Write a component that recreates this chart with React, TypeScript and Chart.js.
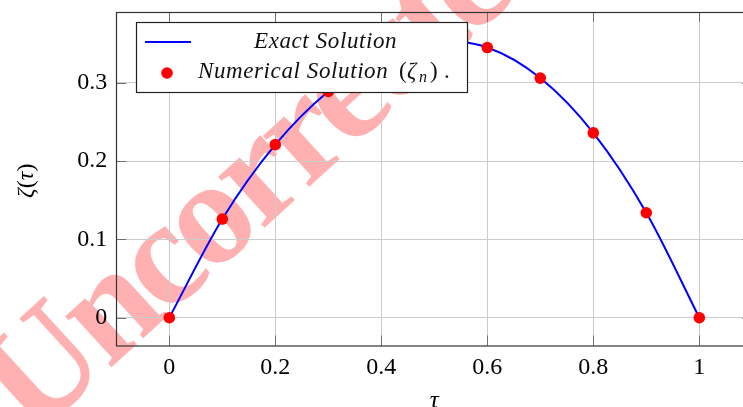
import React, { useEffect, useRef } from 'react';
import { Chart, registerables } from 'chart.js';

Chart.register(...registerables);

// ---- data ----
const tau = [0, 0.1, 0.2, 0.3, 0.4, 0.5, 0.6, 0.7, 0.8, 0.9, 1.0];
const exactSolution = [0, 0.126, 0.221, 0.289, 0.332, 0.353, 0.345, 0.306, 0.236, 0.134, 0];
const numericalSolution = [0, 0.126, 0.221, 0.289, 0.332, 0.353, 0.345, 0.306, 0.236, 0.134, 0];
const xTicks = [0, 0.2, 0.4, 0.6, 0.8, 1];
const xTickLabels = ['0', '0.2', '0.4', '0.6', '0.8', '1'];
const yTicks = [0, 0.1, 0.2, 0.3];
const yTickLabels = ['0', '0.1', '0.2', '0.3'];
const xRange = [-0.1, 1.1];
const yRange = [-0.0355, 0.3904];
const legendLabels = ['Exact Solution', 'Numerical Solution'];
const watermarkText = 'Uncorrected';

const SERIF = '"Liberation Serif", "Times New Roman", serif';

type Seg = { t: string; font: string; dy?: number; x?: number };

function drawSegs(ctx: CanvasRenderingContext2D, segs: Seg[], startX: number, baseline: number, center = false) {
  let total = 0;
  for (const s of segs) {
    ctx.font = s.font;
    total += ctx.measureText(s.t).width;
  }
  let x = center ? startX - total / 2 : startX;
  ctx.textAlign = 'left';
  ctx.textBaseline = 'alphabetic';
  for (const s of segs) {
    ctx.font = s.font;
    if (s.x !== undefined) x = s.x;
    ctx.fillText(s.t, x, baseline + (s.dy || 0));
    x += ctx.measureText(s.t).width;
  }
}

const watermarkPlugin = {
  id: 'watermark',
  beforeDraw(chart: any) {
    const ctx = chart.ctx as CanvasRenderingContext2D;
    ctx.save();
    ctx.translate(33, 439);
    ctx.rotate(-0.74);
    ctx.font = `bold 150px ${SERIF}`;
    (ctx as any).letterSpacing = '-6px';
    ctx.fillStyle = '#ffb0b0';
    ctx.textBaseline = 'alphabetic';
    ctx.textAlign = 'left';
    ctx.fillText(watermarkText, 0, 0);
    (ctx as any).letterSpacing = '0px';
    ctx.restore();
  },
};

const framePlugin = {
  id: 'frame',
  afterDatasetsDraw(chart: any) {
    const ctx = chart.ctx as CanvasRenderingContext2D;
    const { left, right, top, bottom } = chart.chartArea;
    const xs = chart.scales.x;
    const ys = chart.scales.y;
    ctx.save();
    ctx.strokeStyle = '#707070';
    ctx.lineWidth = 1;
    ctx.beginPath();
    for (const v of xTicks) {
      const px = Math.round(xs.getPixelForValue(v)) + 0.5;
      ctx.moveTo(px, bottom);
      ctx.lineTo(px, bottom - 10);
      ctx.moveTo(px, top);
      ctx.lineTo(px, top + 10);
    }
    for (const v of yTicks) {
      const py = Math.round(ys.getPixelForValue(v)) + 0.5;
      ctx.moveTo(left, py);
      ctx.lineTo(left + 10, py);
      ctx.moveTo(right, py);
      ctx.lineTo(right - 10, py);
    }
    ctx.stroke();
    ctx.strokeStyle = '#333333';
    ctx.lineWidth = 1.2;
    ctx.strokeRect(Math.round(left) + 0.5, Math.round(top) + 0.5, right - left, bottom - top);
    ctx.restore();
  },
  afterDraw(chart: any) {
    const ctx = chart.ctx as CanvasRenderingContext2D;
    const { left, right, top, bottom } = chart.chartArea;
    ctx.save();
    ctx.fillStyle = '#000';
    // x title
    drawSegs(ctx, [{ t: 'τ', font: `italic 25px ${SERIF}` }], (left + right) / 2, 408, true);
    // y title
    ctx.save();
    ctx.translate(33, (top + bottom) / 2 + 2);
    ctx.rotate(-Math.PI / 2);
    drawSegs(
      ctx,
      [
        { t: 'ζ', font: `italic 24px ${SERIF}` },
        { t: '(', font: `24px ${SERIF}` },
        { t: 'τ', font: `italic 24px ${SERIF}` },
        { t: ')', font: `24px ${SERIF}` },
      ],
      0,
      0,
      true
    );
    ctx.restore();

    // legend
    const bx = 136.5, by = 22.5, bw = 331, bh = 70;
    ctx.fillStyle = '#ffffff';
    ctx.fillRect(bx, by, bw, bh);
    ctx.strokeStyle = '#222';
    ctx.lineWidth = 1.2;
    ctx.strokeRect(bx, by, bw, bh);

    ctx.strokeStyle = '#0000ff';
    ctx.lineWidth = 2;
    ctx.beginPath();
    ctx.moveTo(145, 42);
    ctx.lineTo(191, 42);
    ctx.stroke();

    ctx.fillStyle = '#ff0000';
    ctx.beginPath();
    ctx.arc(167, 73, 5.8, 0, Math.PI * 2);
    ctx.fill();

    ctx.fillStyle = '#111';
    (ctx as any).letterSpacing = '0.6px';
    drawSegs(ctx, [{ t: legendLabels[0], font: `italic 23px ${SERIF}` }], 254, 48);
    drawSegs(ctx, [{ t: legendLabels[1], font: `italic 23px ${SERIF}` }], 198, 78);
    (ctx as any).letterSpacing = '0px';
    drawSegs(
      ctx,
      [
        { t: '(', font: `23px ${SERIF}`, x: 399 },
        { t: 'ζ', font: `italic 23px ${SERIF}`, x: 407 },
        { t: 'n', font: `italic 16px ${SERIF}`, dy: 4, x: 419 },
        { t: ')', font: `23px ${SERIF}`, x: 430 },
        { t: '.', font: `23px ${SERIF}`, x: 444 },
      ],
      0,
      78
    );
    ctx.restore();
  },
};

export default function App() {
  const ref = useRef<HTMLCanvasElement | null>(null);

  useEffect(() => {
    if (!ref.current) return;
    const chart = new Chart(ref.current, {
      type: 'scatter',
      data: {
        datasets: [
          {
            label: 'Numerical Solution',
            data: tau.map((x, i) => ({ x, y: numericalSolution[i] })),
            showLine: false,
            pointRadius: 5.8,
            pointHoverRadius: 5.8,
            pointBackgroundColor: '#ff0000',
            pointBorderWidth: 0,
            borderWidth: 0,
            order: 0,
          },
          {
            label: 'Exact Solution',
            data: tau.map((x, i) => ({ x, y: exactSolution[i] })),
            showLine: true,
            borderColor: '#0000ff',
            borderWidth: 2,
            pointRadius: 0,
            cubicInterpolationMode: 'monotone',
            fill: false,
            order: 1,
          } as any,
        ],
      },
      options: {
        animation: false,
        responsive: false,
        maintainAspectRatio: false,
        devicePixelRatio: 1,
        layout: { padding: { left: 0, right: 7.7, top: 12, bottom: 0 } },
        plugins: { legend: { display: false }, tooltip: { enabled: false } },
        scales: {
          x: {
            type: 'linear',
            min: xRange[0],
            max: xRange[1],
            afterBuildTicks: (s: any) => {
              s.ticks = xTicks.map((v) => ({ value: v }));
            },
            afterFit: (s: any) => {
              s.height = 61.5;
              s.paddingLeft = 0;
              s.paddingRight = 0;
            },
            ticks: {
              autoSkip: false,
              maxRotation: 0,
              padding: 8,
              color: '#000',
              font: { family: SERIF, size: 24 },
              callback: (_v: any, i: number) => xTickLabels[i],
            },
            grid: { color: '#cccccc', lineWidth: 1, drawTicks: false },
            border: { display: false },
          },
          y: {
            type: 'linear',
            min: yRange[0],
            max: yRange[1],
            afterBuildTicks: (s: any) => {
              s.ticks = yTicks.map((v) => ({ value: v }));
            },
            afterFit: (s: any) => {
              s.width = 116.3;
              s.paddingTop = 0;
              s.paddingBottom = 0;
            },
            ticks: {
              autoSkip: false,
              padding: 9,
              color: '#000',
              font: { family: SERIF, size: 24 },
              callback: (_v: any, i: number) => yTickLabels[i],
            },
            grid: { color: '#cccccc', lineWidth: 1, drawTicks: false },
            border: { display: false },
          },
        },
      },
      plugins: [watermarkPlugin, framePlugin],
    });
    return () => chart.destroy();
  }, []);

  return (
    <div
      style={{
        position: 'fixed',
        left: 0,
        top: 0,
        width: 743,
        height: 407,
        overflow: 'hidden',
        background: '#ffffff',
      }}
    >
      <canvas ref={ref} width={760} height={407} style={{ display: 'block', width: 760, height: 407 }} />
    </div>
  );
}
